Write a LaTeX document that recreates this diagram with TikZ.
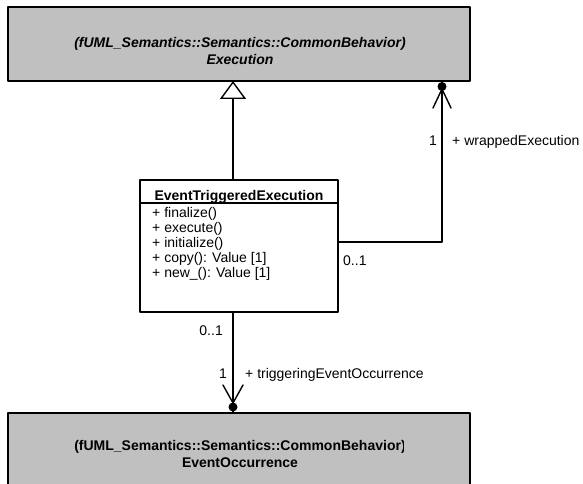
\documentclass[tikz,border=0pt]{standalone}
\usepackage{fontspec}
\setmainfont{Liberation Sans}
\usetikzlibrary{arrows.meta}
\usetikzlibrary{positioning}
\definecolor{umlgray}{RGB}{192,192,192}

\begin{document}
\begin{tikzpicture}[line cap=round,line join=round,x=1pt,y=-1pt,
  font=\fontsize{14}{17}\selectfont,
  outerbox/.style={draw,line width=1.6pt,fill=umlgray,minimum width=462pt,minimum height=74pt,inner sep=0pt,outer sep=0pt},
  classbox/.style={draw,line width=1.6pt,fill=white,minimum width=198pt,minimum height=132pt,inner sep=0pt,outer sep=0pt},
  link/.style={line width=1.4pt},
  lbl/.style={inner sep=0pt}]
\useasboundingbox (0,0) rectangle (583,484);
\node[outerbox] (exec) at (239,44) {};
\node[outerbox] (occ) at (239,450) {};
\node[classbox] (cls) at (239,246) {};
\draw[line width=1.4pt] (cls.north west) ++(0,23) -- ++(198,0);
\node[align=center] (exectxt) at (240,51) {\bfseries\itshape (fUML\_Semantics::Semantics::CommonBehavior)\\ \bfseries\itshape Execution};
\begin{scope}
\clip (0,413) rectangle (403,484);
\node[align=center] (occtxt) at (240,454) {\bfseries (fUML\_Semantics::Semantics::CommonBehavior)\\ \bfseries EventOccurrence};
\end{scope}
\node[lbl,anchor=base] (clsname) at (239,200) {\bfseries EventTriggeredExecution};
\node[lbl,anchor=north west,align=left,font=\fontsize{14}{15}\selectfont] (ops) at (152,207) {+ finalize()\\ + execute()\\ + initialize()\\ + copy(): Value [1]\\ + new\_(): Value [1]};
% generalization
\coordinate (gtop) at ([xshift=-6pt]cls.north |- exec.south);
\draw[link,-{Triangle[open,length=18pt,width=26pt]}] ([xshift=-6pt]cls.north) -- (gtop);
% wrappedExecution
\coordinate (wend) at ([xshift=203pt]exec.south);
\draw[link] ([yshift=4pt]cls.east) -| (wend);
\fill (wend) ++(0,5.5) circle (4.5pt);
\draw[link] (wend) ++(-9,27) -- ++(9,-19) -- ++(9,19);
\node[lbl,anchor=base east] (wone) at (437,145) {1};
\node[lbl,anchor=base west] (wrole) at (452,145) {+ wrappedExecution};
\node[lbl,anchor=base west] (wmany) at (343,265) {0..1};
% triggeringEventOccurrence
\coordinate (tend) at ([xshift=-6pt]occ.north);
\draw[link] ([xshift=-6pt]cls.south) -- (tend);
\fill (tend) ++(0,-6) circle (4.5pt);
\draw[link] (tend) ++(-10,-28) -- ++(10,18) -- ++(10,-18);
\node[lbl,anchor=base east] (tone) at (227,378) {1};
\node[lbl,anchor=base west] (trole) at (245,378) {+ triggeringEventOccurrence};
\node[lbl,anchor=base east] (tmany) at (223,335) {0..1};
\end{tikzpicture}
\end{document}
